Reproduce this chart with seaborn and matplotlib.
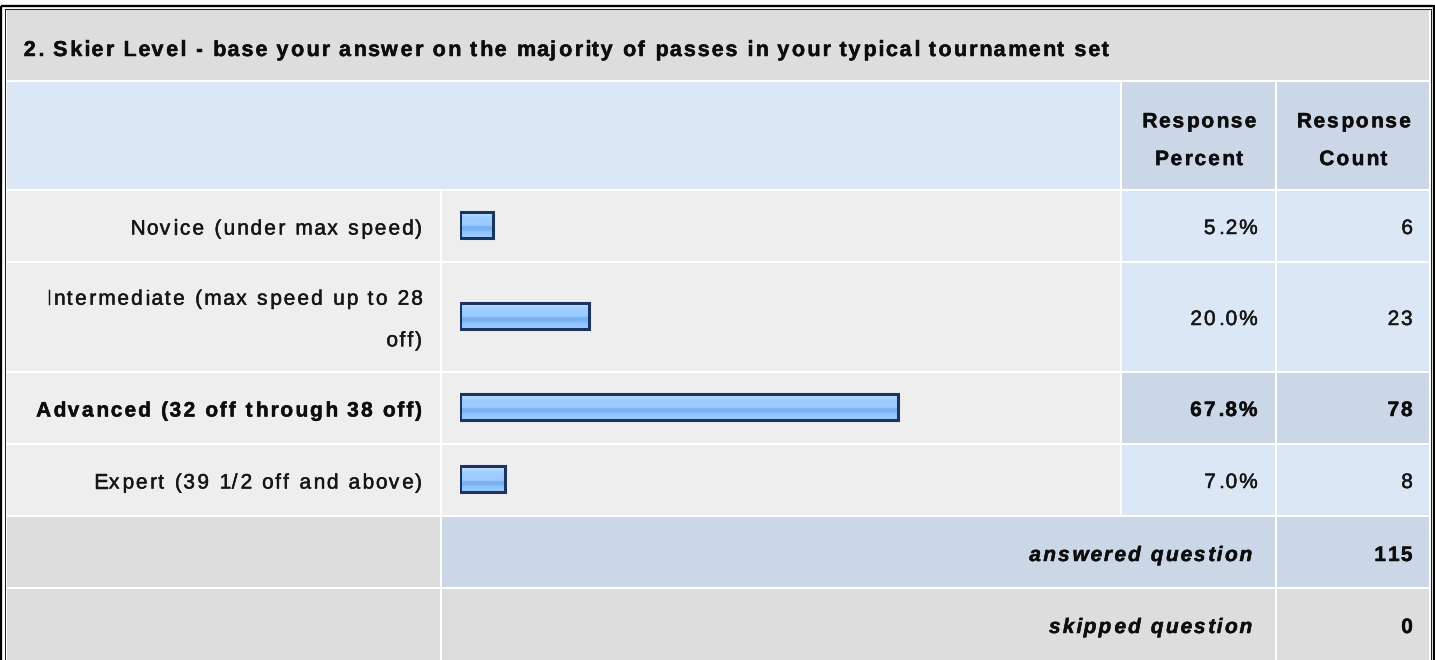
import numpy as np
import pandas as pd
import matplotlib
matplotlib.use("Agg")
import matplotlib.pyplot as plt
import seaborn as sns
from matplotlib import font_manager
from matplotlib import patheffects as pe
from matplotlib.font_manager import FontProperties
from matplotlib.ft2font import FT2Font
from matplotlib.patches import Rectangle
from matplotlib.colors import LinearSegmentedColormap

sns.set_theme(style="white")
plt.rcParams['font.family'] = ['Liberation Sans', 'DejaVu Sans']

# --- data ---
title = "2. Skier Level - base your answer on the majority of passes in your typical tournament set"
choices = ["Novice (under max speed)",
           "Intermediate (max speed up to 28 off)",
           "Advanced (32 off through 38 off)",
           "Expert (39 1/2 off and above)"]
percent = [5.2, 20.0, 67.8, 7.0]
counts = [6, 23, 78, 8]
highlight = "Advanced (32 off through 38 off)"
header_cols = ["Response Percent", "Response Count"]
answered = 115
skipped = 0

W, H, DPI = 1435, 660, 100

# colours
GRAY = "#dddddd"
LIGHT = "#eeeeee"
BLUE = "#dce7f5"
BLUE2 = "#cbd7e6"
INK = "#161616"
SIZE = 15
TRACK = 2.1   # letter spacing of the screenshot, px

_fonts = {}


def glyphs(s, size, weight, style):
    """(advance, left bearing) in pixels for every char"""
    key = (size, weight, style)
    if key not in _fonts:
        path = font_manager.findfont(FontProperties(family='Liberation Sans', weight=weight, style=style))
        f = FT2Font(path)
        f.set_size(size, DPI)
        _fonts[key] = f
    f = _fonts[key]
    out = []
    for c in s:
        g = f.load_char(ord(c))
        out.append((g.linearHoriAdvance / 65536, g.horiBearingX / 64))
    return out


def text_width(s, size=SIZE, weight='normal', style='normal', track=TRACK):
    return sum(a for a, _ in glyphs(s, size, weight, style)) + track * (len(s) - 1)


def spaced(ax, x, y, s, size=SIZE, weight='normal', style='normal', ha='left', track=TRACK, color=INK):
    """draw text char by char so the letter spacing looks like the browser one"""
    gl = glyphs(s, size, weight, style)
    total = sum(a for a, _ in gl) + track * (len(s) - 1)
    if ha == 'right':
        x -= total
    elif ha == 'center':
        x -= total / 2
    for c, (a, lsb) in zip(s, gl):
        if c != ' ':
            ax.text(x + lsb, y, c, fontsize=size, fontweight=weight, fontstyle=style,
                    ha='left', va='baseline', color=color, family='Liberation Sans',
                    path_effects=[pe.withStroke(linewidth=0.35, foreground=color)])
        x += a + track


def wrap(s, maxw, **kw):
    lines, cur = [], ""
    for word in s.split():
        test = (cur + " " + word).strip()
        if cur and text_width(test, **kw) > maxw:
            lines.append(cur)
            cur = word
        else:
            cur = test
    lines.append(cur)
    return lines


def cell(ax, x0, x1, y0, y1, color):
    ax.add_patch(Rectangle((x0, y0), x1 - x0, y1 - y0, facecolor=color, edgecolor='none', zorder=0))


fig = plt.figure(figsize=(W / DPI, H / DPI), dpi=DPI)
fig.patch.set_facecolor('white')
ax = fig.add_axes([0, 0, 1, 1])
ax.set_xlim(0, W)
ax.set_ylim(H, 0)
ax.axis('off')

LAB = (7, 440)
BAR = (442, 1120)
PCT = (1122, 1274.5)
CNT = (1276.5, 1429)
GAP = 2

# title row
cell(ax, 7, 1429, 10, 80, GRAY)
spaced(ax, 23, 56, title, size=15.5, weight='bold', track=1.9, color='#0d0d0d')

# header row
cell(ax, 7, BAR[1], 82, 189, BLUE)
for (x0, x1), name in zip([PCT, CNT], header_cols):
    cell(ax, x0, x1, 82, 189, BLUE2)
    lines = wrap(name, x1 - x0 - 20, weight='bold')
    base = 135.5 + 10.7 - (len(lines) - 1) * 37.7 / 2
    for k, ln in enumerate(lines):
        spaced(ax, (x0 + x1) / 2, base + k * 37.7, ln, weight='bold', ha='center', color='#0d0d0d')

# answer rows
cmap = LinearSegmentedColormap.from_list('bar', [
    (0.0, '#d0e9ff'), (0.13, '#b4daff'), (0.26, '#9ecdff'), (0.56, '#9acbff'),
    (0.60, '#79b0f2'), (0.74, '#7cb3f3'), (0.78, '#8ac1ff'), (1.0, '#9fceff')])
grad = np.linspace(0, 1, 64).reshape(-1, 1)
X0 = 459.5      # pixel of 0 %
PX = 6.47       # pixels per 1 %

top = 191
for label, p, n in zip(choices, percent, counts):
    hi = label == highlight
    wt = 'bold' if hi else 'normal'
    col = '#0d0d0d' if hi else INK
    lines = wrap(label, LAB[1] - LAB[0] - 30, weight=wt)
    h = 70 + 38 * (len(lines) - 1)
    bot = top + h
    mid = (top + bot) / 2
    cell(ax, LAB[0], LAB[1], top, bot, LIGHT)
    cell(ax, BAR[0], BAR[1], top, bot, LIGHT)
    cell(ax, PCT[0], PCT[1], top, bot, BLUE2 if hi else BLUE)
    cell(ax, CNT[0], CNT[1], top, bot, BLUE2 if hi else BLUE)

    base = mid + 8.5 - (len(lines) - 1) * 41.6 / 2
    for k, ln in enumerate(lines):
        spaced(ax, 422, base + k * 41.6, ln, weight=wt, ha='right', color=col)
    spaced(ax, 1257, mid + 8, f"{p:.1f}%", weight=wt, ha='right', color=col)
    spaced(ax, 1412, mid + 8, str(n), weight=wt, ha='right', color=col)

    # bar for this row
    bax = fig.add_axes([X0 / W, 1 - (bot - 1.5) / H, 100 * PX / W, h / H])
    df = pd.DataFrame({'choice': [label], 'pct': [p]})
    sns.barplot(data=df, x='pct', y='choice', orient='h', width=26 / h,
                color='#99ccff', edgecolor='#1c355e', linewidth=2.2, ax=bax)
    for patch in bax.patches:
        bx, by, bw, bh = patch.get_x(), patch.get_y(), patch.get_width(), patch.get_height()
        im = bax.imshow(grad, cmap=cmap, aspect='auto', extent=(bx, bx + bw, by + bh, by),
                        interpolation='bilinear', zorder=1)
        im.set_clip_path(patch)
        patch.set_facecolor('none')
        patch.set_zorder(2)
    bax.set_xlim(0, 100)
    bax.set_ylim(0.5, -0.5)
    bax.axis('off')
    bax.patch.set_alpha(0)

    top = bot + GAP

# answered / skipped rows
bot = top + 70
cell(ax, LAB[0], LAB[1], top, bot, GRAY)
cell(ax, BAR[0], PCT[1], top, bot, BLUE2)
cell(ax, CNT[0], CNT[1], top, bot, BLUE2)
spaced(ax, 1252, top + 44, "answered question", weight='bold', style='italic', ha='right', color='#0d0d0d')
spaced(ax, 1412, top + 44, str(answered), weight='bold', ha='right', color='#0d0d0d')

top = bot + GAP
bot = H + 5
cell(ax, LAB[0], LAB[1], top, bot, GRAY)
cell(ax, BAR[0], PCT[1], top, bot, GRAY)
cell(ax, CNT[0], CNT[1], top, bot, GRAY)
spaced(ax, 1252, top + 44, "skipped question", weight='bold', style='italic', ha='right', color='#0d0d0d')
spaced(ax, 1412, top + 44, str(skipped), weight='bold', ha='right', color='#0d0d0d')

# outer frame (double line)
ax.add_patch(Rectangle((1.2, 6.2), 1432.6, 700, fill=False, edgecolor='black', linewidth=1.65, zorder=5))
ax.add_patch(Rectangle((5.0, 8.7), 1425.5, 700, fill=False, edgecolor='#222222', linewidth=0.75, zorder=5))

fig.savefig("out.png", dpi=DPI, facecolor='white')
